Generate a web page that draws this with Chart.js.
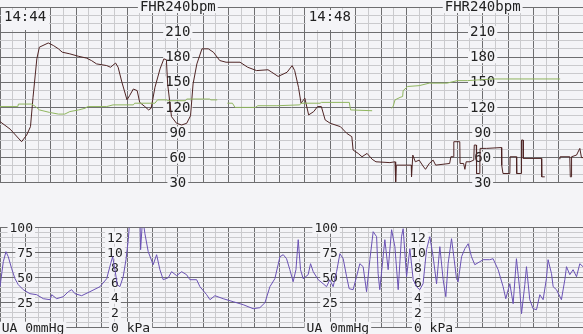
<!DOCTYPE html>
<html>
<head>
<meta charset="utf-8">
<script src="https://cdn.jsdelivr.net/npm/chart.js@4/dist/chart.umd.min.js"></script>
<style>
  html, body { margin: 0; padding: 0; background: #f4f4f7; }
  #wrap { position: relative; width: 583px; height: 334px; overflow: hidden; }
  canvas { position: absolute; left: 0; }
  #fhr { top: 0; }
  #ua { top: 220px; }
</style>
</head>
<body>
<div id="wrap">
  <canvas id="fhr" width="583" height="190"></canvas>
  <canvas id="ua" width="583" height="114"></canvas>
</div>
<script>
// seconds after 14:44:00
const fhrTime = [0,8,17,21,24,26,29,31,38,42,46,49,55,62,68,72,76,80,84,87,91,93,96,100,102,105,108,110,114,117,119,122,126,129,131,132,135,139,143,147,150,152,155,159,164,168,173,178,189,195,202,211,214,219,226,230,232,235,237,240,243,247,250,253,256,260,268,273,277,278,282,285,289,293,296,307,311,
  311.5,312,323.8,324,325,327,330,333,335,338,341,343,354,355,357,357.3,362,362.2,365,366,367,370,373,373.4,375,375.2,377.6,377.8,378,383,394.8,395,396,401.4,401.6,406.6,406.8,410.4,410.6,411.9,412,426.3,426.5,428.9,
  434,
  440.7,441,448.6,449,449.9,450,453.9,456.5,457.8,459];
const fhrBpm = [103,94,79,87,97,132,178,192,197,194,190,186,184,181,179,176,172,171,170,168,173,168,150,129,134,142,140,126,121,117,119,144,166,178,177,148,109,101,99,101,110,148,172,190,190,186,176,174,174,168,164,165,162,157,162,170,164,144,125,131,111,115,121,121,105,101,97,89,85,69,65,61,65,58,55,54,55,
  31,51,51,37,63,55,57,50,46,53,57,51,53,61,61,79,79,53,53,46,55,55,57,75,75,41,41,55,71,71,72,51,41,41,61,61,41,41,81,81,59,59,37,37,
  null,
  58,61,61,37,37,61,63,71,60,60];

const mhrTime = [0,14,14.5,25,28,31,39,46,51,55,62,67,69,84,89,105,106,122,124,131,132,146,147,165,166,171,
  175,
  179,183,185,201,203,218,236,237,252,253,275,276,293,
  300,
  308,309.5,311,315,317,317.4,321,330,338,352,360,368,388,441];
const mhrBpm = [121,121,124,124,121,117,114,112,112,115,117,119,121,121,123,123,125,125,129,129,128,128,130,130,129,129,
  null,
  125,125,120,120,122,122,123,125,125,126,126,117,116,
  null,
  119,121,129,132,133,140,145,146,149,149,152,152,154,154];

const uaTime = [0,2.6,4.7,6.5,9.2,11.8,14.4,18.3,23.6,28.9,34.1,39.4,40.7,44.6,49.8,53.8,56.4,59,64.3,70.8,78.7,84,87.1,88.7,90.5,92.3,94.4,97,99.2,101,102.3,110.2,110.7,112.3,114.1,116.7,120.6,123.3,125.9,128.5,132.5,135.1,139.1,143,146.9,149.5,154.8,157.4,162.7,165.3,169.2,175.7,183.6,191.5,199.3,204.6,208.6,212.5,216.4,220.4,223,225.6,228.2,230.8,233,234.8,236.6,238.7,242.6,244.5,246.6,250.5,254.4,257.1,259.7,262.3,265,267.6,270.2,272.9,274.9,278,280.7,283.3,285.9,288.6,291.2,293.8,296.5,297.7,299,303,305.6,308.3,310.9,313.5,316.1,317.4,320.1,322.7,325.3,327.9,330.5,333.1,335.8,338.4,341,343.7,346.3,348.9,351,352.8,355.5,357.3,359.4,360.7,363.4,366,368.6,371.2,373.8,377.8,380.4,385.6,388.2,392.2,396.1,398.2,401.4,404,406.6,409.2,410.6,413.2,414.5,417.1,419.7,422.4,425,427.6,430.2,431.5,434.2,435.5,438.1,442,444.7,446,448.6,451.2,453.9,456.5,459];
const uaMmHg = [41,66,76,71,59,49,43,38,34,33,29,28,33,29,31,36,38,34,32,36,41,49,64,71,58,43,41,51,68,88,110,110,78,110,94,76,63,73,58,48,50,56,52,56,53,48,48,41,33,28,32,29,26,23,19,20,25,41,49,71,73,69,58,46,58,88,58,49,53,64,56,48,44,41,48,41,56,74,69,51,39,38,51,64,61,36,68,96,91,54,38,88,58,98,81,38,91,99,51,79,48,41,38,44,78,91,71,44,81,48,31,64,89,71,49,46,71,79,84,71,63,66,68,68,69,58,41,29,44,24,69,38,14,43,61,28,19,18,33,28,49,68,54,41,38,28,48,61,53,58,51,64,61];

const fhrLabels = [210, 180, 150, 120, 90, 60, 30];
const uaLabels = [100, 75, 50, 25];
const kpaLabels = [12, 10, 8, 6, 4, 2];
const timeMarks = ['14:44', '14:48'];

const BG = '#f4f4f7';
const GRID_DARK = '#6e6e70';
const GRID_LIGHT = '#cacacd';
const FONT = '"DejaVu Sans Mono", monospace';
const T_MAX = 459;

function pts(xs, ys) { return xs.map((x, i) => ({ x, y: ys[i] })); }

function xScale() {
  return {
    type: 'linear', min: 0, max: T_MAX,
    ticks: { display: false, stepSize: 10, padding: 0 },
    grid: {
      drawTicks: false,
      color: c => c.tick.value % 10 !== 0 ? 'rgba(0,0,0,0)' : (c.tick.value % 20 === 0 ? GRID_DARK : GRID_LIGHT)
    },
    border: { display: false },
    afterFit: s => { s.height = 0; }
  };
}

function labelBox(ctx, text, x, y, align) {
  ctx.textAlign = align;
  const w = ctx.measureText(text).width;
  const left = align === 'center' ? x - w / 2 : (align === 'right' ? x - w : x);
  ctx.fillStyle = BG;
  ctx.fillRect(left - 2, y - 6, w + 4, 12);
  ctx.fillStyle = '#222';
  ctx.fillText(text, x, y + 0.5);
}

// labels sit under the traces, like the paper print
const fhrText = {
  id: 'fhrText',
  beforeDatasetsDraw(chart) {
    const ctx = chart.ctx, xs = chart.scales.x, ys = chart.scales.y;
    ctx.save();
    ctx.font = '14px ' + FONT;
    ctx.textBaseline = 'middle';
    const cw = ctx.measureText('0').width;
    [140, 380].forEach(t => {
      const x = xs.getPixelForValue(t);
      fhrLabels.forEach(v => labelBox(ctx, String(v), x, ys.getPixelForValue(v), 'center'));
      labelBox(ctx, 'FHR240bpm', x - 4.5 * cw, ys.getPixelForValue(240), 'left');
    });
    timeMarks.forEach((m, i) => {
      const x = xs.getPixelForValue(i * 240);
      ctx.fillStyle = BG;
      ctx.fillRect(x + 1, 10, 48, 20);
      ctx.fillStyle = '#222';
      ctx.textAlign = 'left';
      ctx.fillText(m, x + 4, 17);
    });
    ctx.restore();
  }
};

const uaText = {
  id: 'uaText',
  beforeDatasetsDraw(chart) {
    const ctx = chart.ctx, xs = chart.scales.x, ys = chart.scales.y;
    ctx.save();
    ctx.font = '13px ' + FONT;
    ctx.textBaseline = 'middle';
    const cw = ctx.measureText('0').width;
    [26, 266].forEach(t => {
      const x = xs.getPixelForValue(t);
      uaLabels.forEach(v => labelBox(ctx, String(v), x, ys.getPixelForValue(v), 'right'));
      labelBox(ctx, 'UA 0mmHg', x - 4 * cw, ys.getPixelForValue(0), 'left');
    });
    [90.5, 329].forEach(t => {
      const x = xs.getPixelForValue(t);
      kpaLabels.forEach(k => labelBox(ctx, String(k), x, ys.getPixelForValue(k * 7.5), 'center'));
      labelBox(ctx, '0 kPa', x - 0.5 * cw, ys.getPixelForValue(0), 'left');
    });
    ctx.restore();
  }
};

const common = {
  animation: false, responsive: false, devicePixelRatio: 1,
  plugins: { legend: { display: false }, tooltip: { enabled: false } },
  elements: { point: { radius: 0 }, line: { tension: 0, borderWidth: 1 } }
};

new Chart(document.getElementById('fhr'), {
  type: 'line',
  data: {
    datasets: [
      { data: pts(mhrTime, mhrBpm), borderColor: '#8fb55e', spanGaps: false },
      { data: pts(fhrTime, fhrBpm), borderColor: '#4e2424', spanGaps: false }
    ]
  },
  options: Object.assign({}, common, {
    layout: { padding: { top: 7, bottom: 7.3, left: 0, right: 0 } },
    scales: {
      x: xScale(),
      y: {
        min: 30, max: 240,
        ticks: { display: false, stepSize: 10, padding: 0 },
        grid: { drawTicks: false, color: c => c.tick.value % 30 === 0 ? GRID_DARK : GRID_LIGHT },
        border: { display: false },
        afterFit: s => { s.width = 0; }
      }
    }
  }),
  plugins: [fhrText]
});

new Chart(document.getElementById('ua'), {
  type: 'line',
  data: {
    datasets: [
      { data: pts(uaTime, uaMmHg), borderColor: '#6a52b4' }
    ]
  },
  options: Object.assign({}, common, {
    layout: { padding: { top: 7.7, bottom: 6.3, left: 0, right: 0 } },
    scales: {
      x: xScale(),
      y: {
        min: 0, max: 100,
        ticks: { display: false, stepSize: 5, padding: 0 },
        grid: { drawTicks: false, color: c => c.tick.value % 25 === 0 ? GRID_DARK : GRID_LIGHT },
        border: { display: false },
        afterFit: s => { s.width = 0; }
      }
    }
  }),
  plugins: [uaText]
});
</script>
</body>
</html>
